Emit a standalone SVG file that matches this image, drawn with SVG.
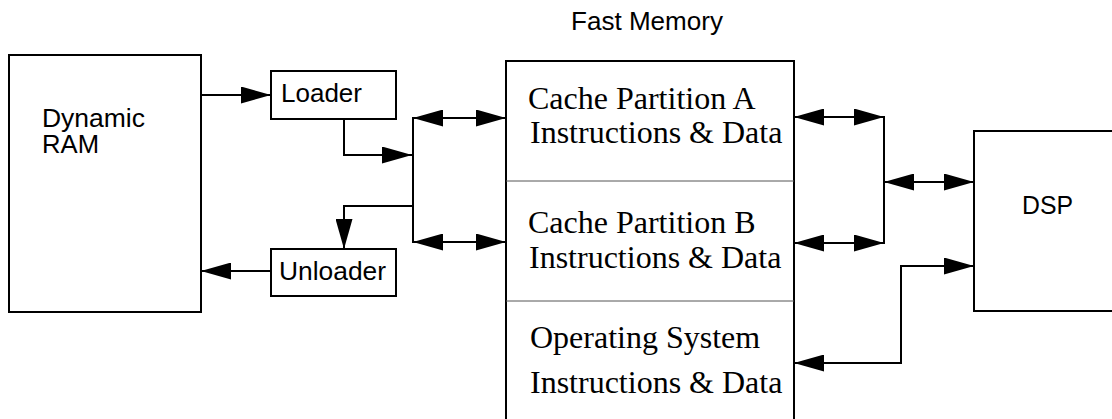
<svg xmlns="http://www.w3.org/2000/svg" width="1112" height="419" viewBox="0 0 1112 419">
  <style>
    .box { fill: none; stroke: #000; stroke-width: 2; }
    .div { fill: none; stroke: #555; stroke-width: 1; }
    .sans { font-family: "Liberation Sans", Arial, sans-serif; font-size: 25px; fill: #000; }
    .serif { font-family: "Liberation Serif", "Times New Roman", serif; font-size: 32px; fill: #000; }
    .conn path { fill: none; stroke: #000; stroke-width: 2; }
  </style>
  <defs>
    <marker id="ah" markerUnits="userSpaceOnUse" markerWidth="30" markerHeight="17" refX="30" refY="8.5" orient="auto-start-reverse" viewBox="0 0 30 17">
      <path d="M0,0 L30,8.5 L0,17 Z" fill="#000"/>
    </marker>
  </defs>
  <rect width="1112" height="419" fill="#fff"/>

  <g id="dynamic-ram">
    <rect class="box" x="9" y="55" width="192" height="257"/>
    <text class="sans" x="42" y="127" textLength="103" lengthAdjust="spacingAndGlyphs">Dynamic</text>
    <text class="sans" x="42" y="153" textLength="57" lengthAdjust="spacingAndGlyphs">RAM</text>
  </g>
  <g id="loader">
    <rect class="box" x="271" y="71" width="125" height="48"/>
    <text class="sans" x="281" y="102" textLength="81" lengthAdjust="spacingAndGlyphs">Loader</text>
  </g>
  <g id="unloader">
    <rect class="box" x="271" y="249" width="125" height="47"/>
    <text class="sans" x="279" y="280" textLength="107" lengthAdjust="spacingAndGlyphs">Unloader</text>
  </g>
  <g id="fast-memory">
    <text class="sans" x="571" y="30" textLength="152" lengthAdjust="spacingAndGlyphs">Fast Memory</text>
    <path class="box" d="M506,420 V61 H794 V420"/>
    <line class="div" x1="506" y1="181" x2="794" y2="181"/>
    <line class="div" x1="506" y1="301" x2="794" y2="301"/>
  </g>
  <g id="cache-a">
    <text class="serif" x="528" y="109">Cache Partition A</text>
    <text class="serif" x="530" y="143">Instructions &amp; Data</text>
  </g>
  <g id="cache-b">
    <text class="serif" x="528" y="233">Cache Partition B</text>
    <text class="serif" x="529" y="268">Instructions &amp; Data</text>
  </g>
  <g id="os">
    <text class="serif" x="530" y="348">Operating System</text>
    <text class="serif" x="530" y="393">Instructions &amp; Data</text>
  </g>
  <g id="dsp">
    <path class="box" d="M1114,131 H974 V311 H1114"/>
    <text class="sans" x="1022" y="214" textLength="51" lengthAdjust="spacingAndGlyphs">DSP</text>
  </g>

  <g id="connectors" class="conn">
    <path d="M201,95 H271" marker-end="url(#ah)"/>
    <path d="M344,119 V155 H412" marker-end="url(#ah)"/>
    <path d="M413,206 H344 V249" marker-end="url(#ah)"/>
    <path d="M271,271 H201" marker-end="url(#ah)"/>
    <path d="M413,117 V243"/>
    <path d="M413,118 H506" marker-start="url(#ah)" marker-end="url(#ah)"/>
    <path d="M413,242 H506" marker-start="url(#ah)" marker-end="url(#ah)"/>
    <path d="M794,117 H884" marker-start="url(#ah)" marker-end="url(#ah)"/>
    <path d="M794,243 H884" marker-start="url(#ah)" marker-end="url(#ah)"/>
    <path d="M884,116 V244"/>
    <path d="M884,182 H974" marker-start="url(#ah)" marker-end="url(#ah)"/>
    <path d="M794,363 H901 V266 H974" marker-start="url(#ah)" marker-end="url(#ah)"/>
  </g>
</svg>
